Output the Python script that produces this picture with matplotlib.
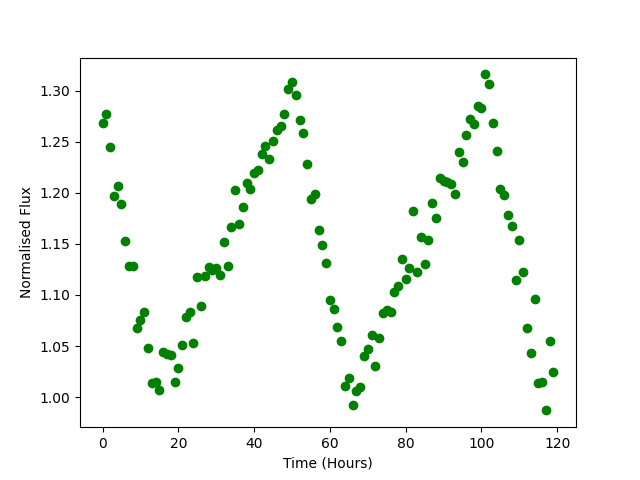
import matplotlib
matplotlib.use("Agg")
import matplotlib.pyplot as plt
import numpy as np

hours = np.arange(120)
flux = [
    1.268, 1.277, 1.245, 1.197, 1.207, 1.189, 1.153, 1.128, 1.128, 1.068,
    1.076, 1.083, 1.048, 1.014, 1.015, 1.007, 1.044, 1.042, 1.041, 1.015,
    1.029, 1.051, 1.078, 1.083, 1.053, 1.118, 1.089, 1.119, 1.127, 1.124,
    1.126, 1.120, 1.152, 1.128, 1.167, 1.203, 1.170, 1.186, 1.210, 1.204,
    1.219, 1.222, 1.238, 1.246, 1.233, 1.251, 1.262, 1.265, 1.277, 1.302,
    1.309, 1.296, 1.271, 1.259, 1.228, 1.194, 1.199, 1.164, 1.149, 1.131,
    1.095, 1.086, 1.069, 1.055, 1.011, 1.019, 0.992, 1.006, 1.010, 1.040,
    1.047, 1.061, 1.030, 1.058, 1.082, 1.085, 1.083, 1.103, 1.109, 1.135,
    1.116, 1.126, 1.182, 1.123, 1.157, 1.130, 1.154, 1.190, 1.175, 1.215,
    1.212, 1.211, 1.209, 1.199, 1.240, 1.230, 1.257, 1.272, 1.267, 1.285,
    1.283, 1.316, 1.307, 1.268, 1.241, 1.204, 1.198, 1.178, 1.168, 1.115,
    1.154, 1.123, 1.068, 1.043, 1.096, 1.014, 1.015, 0.987, 1.055, 1.025,
]

fig, ax = plt.subplots(figsize=(6.4, 4.8), dpi=100)
ax.plot(hours, flux, 'go')
ax.set_xlabel("Time (Hours)")
ax.set_ylabel("Normalised Flux")
fig.savefig("out.png")
